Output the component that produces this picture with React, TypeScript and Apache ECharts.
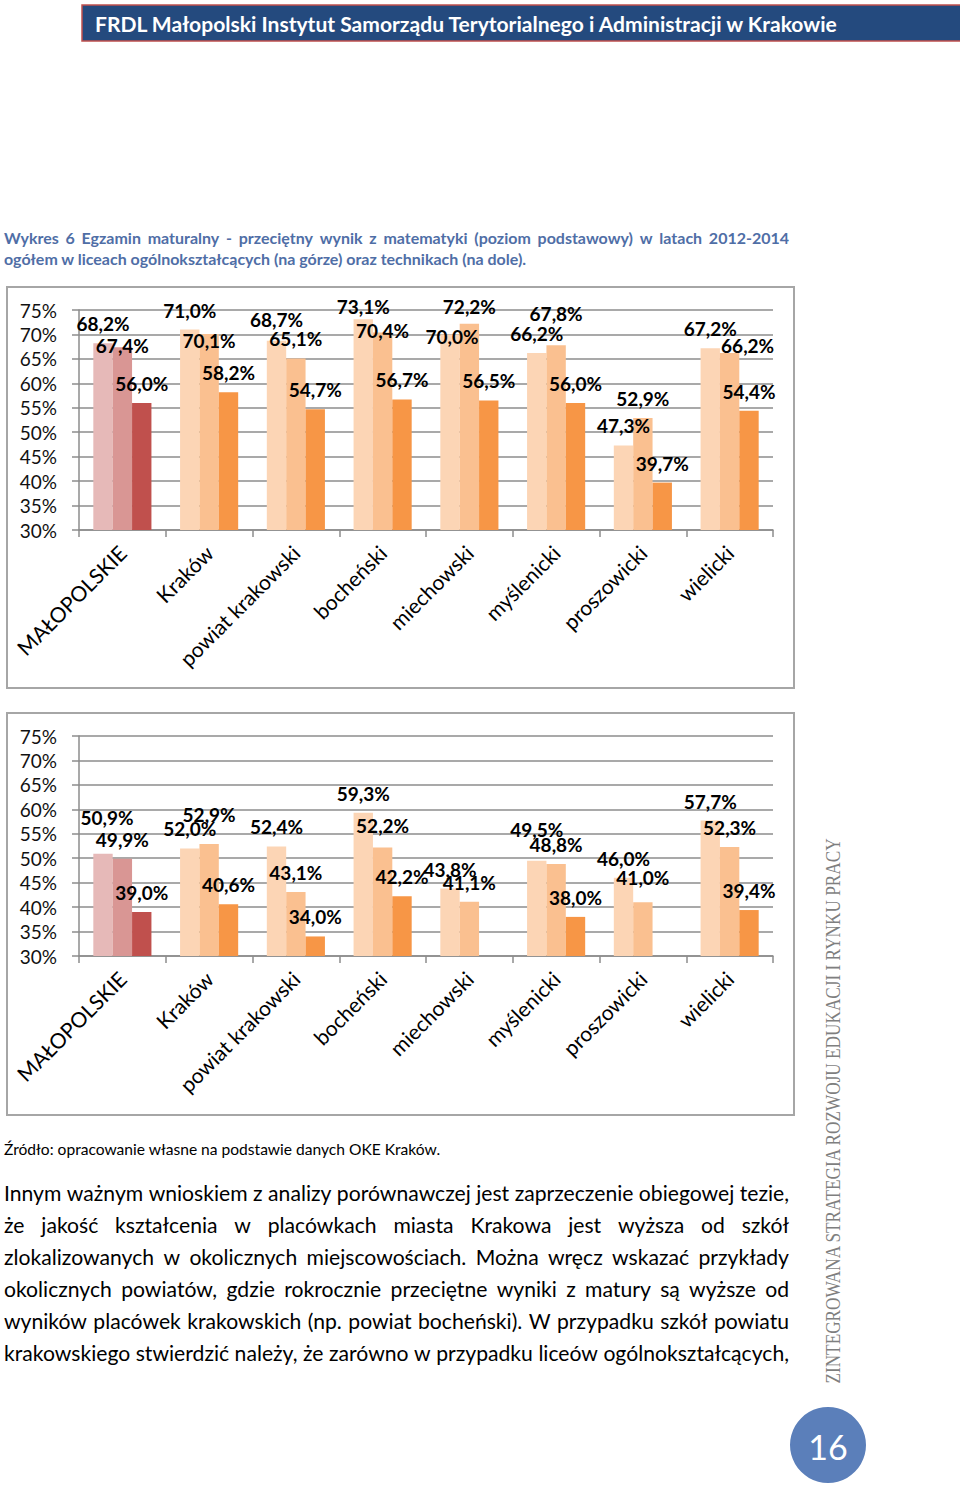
import React, { useEffect, useRef } from 'react';
import * as echarts from 'echarts';

// ---------- DATA ----------
const categories = ['MAŁOPOLSKIE', 'Kraków', 'powiat krakowski', 'bocheński', 'miechowski', 'myślenicki', 'proszowicki', 'wielicki'];
const yearNames = ['2012', '2013', '2014'];
const yMin = 30;
const yMax = 75;
const yStep = 5;

// top chart: licea ogólnokształcące
const lo2012 = [68.2, 71.0, 68.7, 73.1, 70.0, 66.2, 47.3, 67.2];
const lo2013 = [67.4, 70.1, 65.1, 70.4, 72.2, 67.8, 52.9, 66.2];
const lo2014 = [56.0, 58.2, 54.7, 56.7, 56.5, 56.0, 39.7, 54.4];

// bottom chart: technika
const tech2012 = [50.9, 52.0, 52.4, 59.3, 43.8, 49.5, 46.0, 57.7];
const tech2013 = [49.9, 52.9, 43.1, 52.2, 41.1, 48.8, 41.0, 52.3];
const tech2014 = [39.0, 40.6, 34.0, 42.2, null, 38.0, null, 39.4];

// ---------- TEXTS ----------
const headerText = 'FRDL Małopolski Instytut Samorządu Terytorialnego i Administracji w Krakowie';
const captionLine1 = 'Wykres 6 Egzamin maturalny -  przeciętny wynik z matematyki (poziom podstawowy) w latach 2012-2014';
const captionLine2 = 'ogółem w liceach ogólnokształcących (na górze) oraz technikach (na dole).';
const sourceText = 'Źródło: opracowanie własne na podstawie danych OKE Kraków.';
const bodyLines = [
  'Innym ważnym wnioskiem z analizy porównawczej jest zaprzeczenie obiegowej tezie,',
  'że jakość kształcenia w placówkach miasta Krakowa jest wyższa od szkół',
  'zlokalizowanych w okolicznych miejscowościach. Można wręcz wskazać przykłady',
  'okolicznych powiatów, gdzie rokrocznie przeciętne wyniki z matury są wyższe od',
  'wyników placówek krakowskich (np. powiat bocheński). W przypadku szkół powiatu',
  'krakowskiego stwierdzić należy, że zarówno w przypadku liceów ogólnokształcących,',
];
const sideText = 'ZINTEGROWANA STRATEGIA ROZWOJU EDUKACJI I RYNKU PRACY';
const pageNumber = '16';

// ---------- STYLE / LAYOUT ----------
const regionColors = ['#E6B9B8', '#D99694', '#C0504D'];
const countyColors = ['#FCD5B5', '#FAC090', '#F79646'];
const gridColor = '#8c8c8c';
const calibriLike = 'Lato';

// manual nudges of value labels [dx, dy] (label layout only)
const nudgeTop = [
  [[0, 0], [0, 0], [0, -2], [0, 7], [2, 22], [0, 0], [0, 0], [0, 0]],
  [[0, 18], [0, 26], [0, 0], [0, 18], [0, 2], [0, -12], [0, 0], [18, 12]],
  [[0, 0], [0, 0], [0, 0], [0, 0], [0, 0], [0, 0], [0, 0], [0, 0]],
];
const nudgeBottom = [
  [[4, -17], [0, 0], [0, 0], [0, 0], [0, 0], [0, -12], [0, 0], [0, 0]],
  [[0, 0], [0, -10], [0, 0], [0, -2], [0, 0], [0, 0], [0, -5], [0, 0]],
  [[0, 0], [0, 0], [0, 0], [0, 0], [0, 0], [0, 0], [0, 0], [0, 0]],
];

function fmtPct(v: number) {
  return v.toFixed(1).replace('.', ',') + '%';
}

function makeSeries(values: (number | null)[][], nudges: number[][][], axisIndex: number) {
  return values.map((vals, s) => ({
    type: 'bar',
    name: yearNames[s],
    xAxisIndex: axisIndex,
    yAxisIndex: axisIndex,
    barGap: '0%',
    barCategoryGap: '33%',
    data: vals.map((v, i) => {
      const [dx, dy] = nudges[s][i];
      return {
        value: v,
        itemStyle: { color: i === 0 ? regionColors[s] : countyColors[s] },
        label: { offset: [dx, dy] },
      };
    }),
    label: {
      show: true,
      position: 'top',
      distance: 10,
      fontSize: 19,
      fontWeight: 'bold',
      fontFamily: calibriLike,
      color: '#000',
      formatter: (p: any) => (p.value == null ? '' : fmtPct(p.value)),
    },
  }));
}

function axesFor(gridIndex: number) {
  const x = {
    type: 'category',
    gridIndex,
    data: categories,
    axisLine: { show: true, lineStyle: { color: gridColor, width: 1.5 } },
    axisTick: { show: true, length: 7, alignWithLabel: false, lineStyle: { color: gridColor, width: 1.5 } },
    axisLabel: {
      interval: 0,
      rotate: 45,
      margin: 19,
      fontSize: 21,
      fontFamily: calibriLike,
      color: '#000',
    },
    splitLine: { show: false },
  };
  const y = {
    type: 'value',
    gridIndex,
    min: yMin,
    max: yMax,
    interval: yStep,
    axisLine: { show: true, lineStyle: { color: gridColor, width: 1.5 } },
    axisTick: { show: true, length: 7, lineStyle: { color: gridColor, width: 1.5 } },
    axisLabel: {
      margin: 22,
      fontSize: 19,
      fontFamily: calibriLike,
      color: '#111',
      formatter: (v: number) => v + '%',
    },
    splitLine: { show: true, lineStyle: { color: gridColor, width: 1.5 } },
  };
  return { x, y };
}

export default function App() {
  const ref = useRef<HTMLDivElement>(null);

  useEffect(() => {
    if (!ref.current) return;
    const chart = echarts.init(ref.current, undefined, { renderer: 'svg' });
    const canvas = document.createElement('canvas');
    const ctx = canvas.getContext('2d') as CanvasRenderingContext2D;
    const measure = (t: string, size: number, weight: string, family: string) => {
      ctx.font = `${weight} ${size}px "${family}"`;
      return ctx.measureText(t).width;
    };
    const fitSize = (texts: string[], target: number, weight: string, family: string) => {
      const base = 20;
      const w = Math.max(...texts.map((t) => measure(t.replace(/\s+/g, ' '), base, weight, family)));
      return (base * target) / w;
    };

    const textEl = (t: string, x: number, y: number, size: number, weight: string, family: string, fill: string, extra: any = {}) => ({
      type: 'text',
      x,
      y,
      ...extra,
      style: {
        text: t,
        fontSize: size,
        fontWeight: weight,
        fontFamily: family,
        fill,
        align: extra.align || 'left',
        verticalAlign: 'middle',
        textAlign: extra.align || 'left',
        textVerticalAlign: 'middle',
      },
    });

    const justified = (line: string, x0: number, x1: number, y: number, size: number, weight: string, family: string, fill: string) => {
      const words = line.split(' ').filter(Boolean);
      const ws = words.map((w) => measure(w, size, weight, family));
      const total = ws.reduce((a, b) => a + b, 0);
      const gap = words.length > 1 ? (x1 - x0 - total) / (words.length - 1) : 0;
      const out: any[] = [];
      let x = x0;
      words.forEach((w, i) => {
        out.push(textEl(w, x, y, size, weight, family, fill));
        x += ws[i] + gap;
      });
      return out;
    };

    const graphics: any[] = [];
    // header bar
    graphics.push({
      type: 'rect',
      shape: { x: 82, y: 5, width: 890, height: 36 },
      style: { fill: '#244A7E', stroke: '#C0504D', lineWidth: 1.5 },
    });
    const headerSize = fitSize([headerText], 745, 'bold', calibriLike);
    graphics.push(textEl(headerText, 95, 23, headerSize, 'bold', calibriLike, '#ffffff'));

    // caption
    const capColor = '#4F6EA6';
    const capSize = fitSize([captionLine2], 523, 'bold', calibriLike);
    graphics.push(...justified(captionLine1, 4, 789, 237, capSize, 'bold', calibriLike, capColor));
    graphics.push(textEl(captionLine2, 4, 258, capSize, 'bold', calibriLike, capColor));

    // chart frames
    graphics.push({ type: 'rect', z: -1, shape: { x: 7, y: 287, width: 787, height: 401 }, style: { fill: 'none', stroke: '#a6a6a6', lineWidth: 2 } });
    graphics.push({ type: 'rect', z: -1, shape: { x: 7, y: 713, width: 787, height: 402 }, style: { fill: 'none', stroke: '#a6a6a6', lineWidth: 2 } });

    // source
    const srcSize = fitSize([sourceText], 437, 'normal', calibriLike);
    graphics.push(textEl(sourceText, 4, 1149, srcSize, 'normal', calibriLike, '#000'));

    // body paragraph
    const bodySize = fitSize(bodyLines, 785, 'normal', calibriLike);
    bodyLines.forEach((ln, i) => {
      graphics.push(...justified(ln, 4, 789, 1193 + i * 32, bodySize, 'normal', calibriLike, '#000'));
    });

    // side vertical text
    const sideSize = 20;
    const sideW = measure(sideText, sideSize, 'normal', 'Liberation Serif');
    graphics.push({
      type: 'text',
      x: 833,
      y: 1111,
      rotation: Math.PI / 2,
      scaleX: 547 / sideW,
      style: {
        text: sideText,
        fontSize: sideSize,
        fontFamily: 'Liberation Serif',
        fill: '#7f7f7f',
        align: 'center',
        verticalAlign: 'middle',
        textAlign: 'center',
        textVerticalAlign: 'middle',
      },
    });

    // page number
    graphics.push({ type: 'circle', shape: { cx: 828, cy: 1445, r: 38 }, style: { fill: '#5B7FBA' } });
    graphics.push(textEl(pageNumber, 828, 1446, 34, 'normal', calibriLike, '#ffffff', { align: 'center' }));

    const a1 = axesFor(0);
    const a2 = axesFor(1);

    chart.setOption({
      animation: false,
      backgroundColor: '#ffffff',
      grid: [
        { left: 79, top: 310, width: 694, height: 220 },
        { left: 79, top: 736, width: 694, height: 220 },
      ],
      xAxis: [a1.x, a2.x],
      yAxis: [a1.y, a2.y],
      series: [
        ...makeSeries([lo2012, lo2013, lo2014], nudgeTop, 0),
        ...makeSeries([tech2012, tech2013, tech2014], nudgeBottom, 1),
      ],
      graphic: { elements: graphics },
    });

    return () => chart.dispose();
  }, []);

  return <div ref={ref} style={{ position: 'absolute', left: 0, top: 0, width: 960, height: 1490 }} />;
}
